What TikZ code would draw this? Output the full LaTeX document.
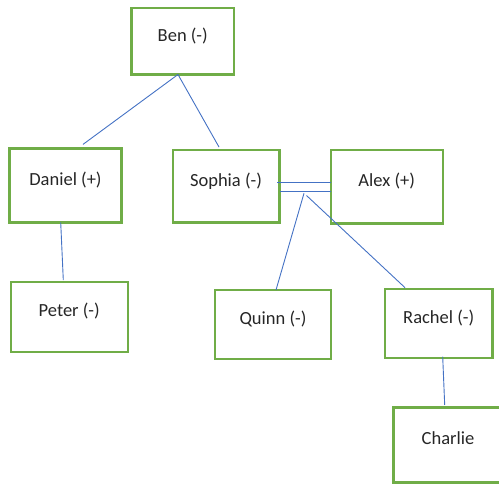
\documentclass[tikz,border=0pt]{standalone}
\usepackage{fontspec}
\setmainfont{Carlito}
\definecolor{boxgreen}{HTML}{70AD47}
\definecolor{linkblue}{HTML}{4472C4}

\begin{document}
\begin{tikzpicture}[x=1pt,y=-1pt,
  person/.style={draw=boxgreen,line width=2.4pt,outer sep=0pt,inner sep=0pt,
    text=black!85,font=\fontsize{18.5}{22}\selectfont,text height=10pt,text depth=10pt},
  link/.style={linkblue,line width=0.9pt}]
\useasboundingbox (0,0) rectangle (499,484);
\clip (0,0) rectangle (499,484);
% people
\node[person,minimum width=102.5pt,minimum height=66.5pt] (ben) at (182.75,41.25) {Ben (-)};
\node[person,minimum width=112pt,minimum height=74pt] (daniel) at (65.5,185.4) {Daniel (+)};
\node[person,minimum width=117pt,minimum height=70pt] (peter) at (69.2,316.8) {Peter (-)};
\node[person,minimum width=106.6pt,minimum height=72.5pt] (sophia) at (226,186.3) {Sophia (-)};
\node[person,minimum width=112pt,minimum height=73.3pt] (alex) at (386.7,186.7) {Alex (+)};
\node[person,minimum width=116pt,minimum height=69pt] (quinn) at (273,324.5) {Quinn (-)};
\node[person,minimum width=107.3pt,minimum height=69pt] (rachel) at (438.7,323.8) {Rachel (-)};
\node[person,minimum width=109.4pt,minimum height=74.6pt] (charlie) at (448,445) {Charlie};
% lines
\draw[link] ([xshift=-4.75pt]ben.south) -- ([xshift=17.5pt,yshift=4pt]daniel.north);
\draw[link] ([xshift=-4.75pt]ben.south) -- ([xshift=-7pt,yshift=3pt]sophia.north);
\draw[link] ([xshift=-4.8pt]daniel.south) -- ([xshift=-5.9pt,yshift=1.7pt]peter.north);
\draw[link] ([xshift=-2.3pt,yshift=3.6pt]sophia.east) -- ([yshift=4pt]alex.west);
\draw[link] ([xshift=0.7pt,yshift=-4.7pt]sophia.east) -- ([yshift=-4.3pt]alex.west);
\coordinate (kidsq) at (304,193.3);
\coordinate (kidsr) at (306.5,195.5);
\draw[link] (kidsq) -- ([xshift=3pt]quinn.north);
\draw[link] (kidsr) -- ([xshift=20pt,yshift=1.6pt]rachel.north west);
\draw[link] ([xshift=4pt,yshift=1.6pt]rachel.south) -- ([xshift=-3.3pt,yshift=2.7pt]charlie.north);
\end{tikzpicture}
\end{document}
